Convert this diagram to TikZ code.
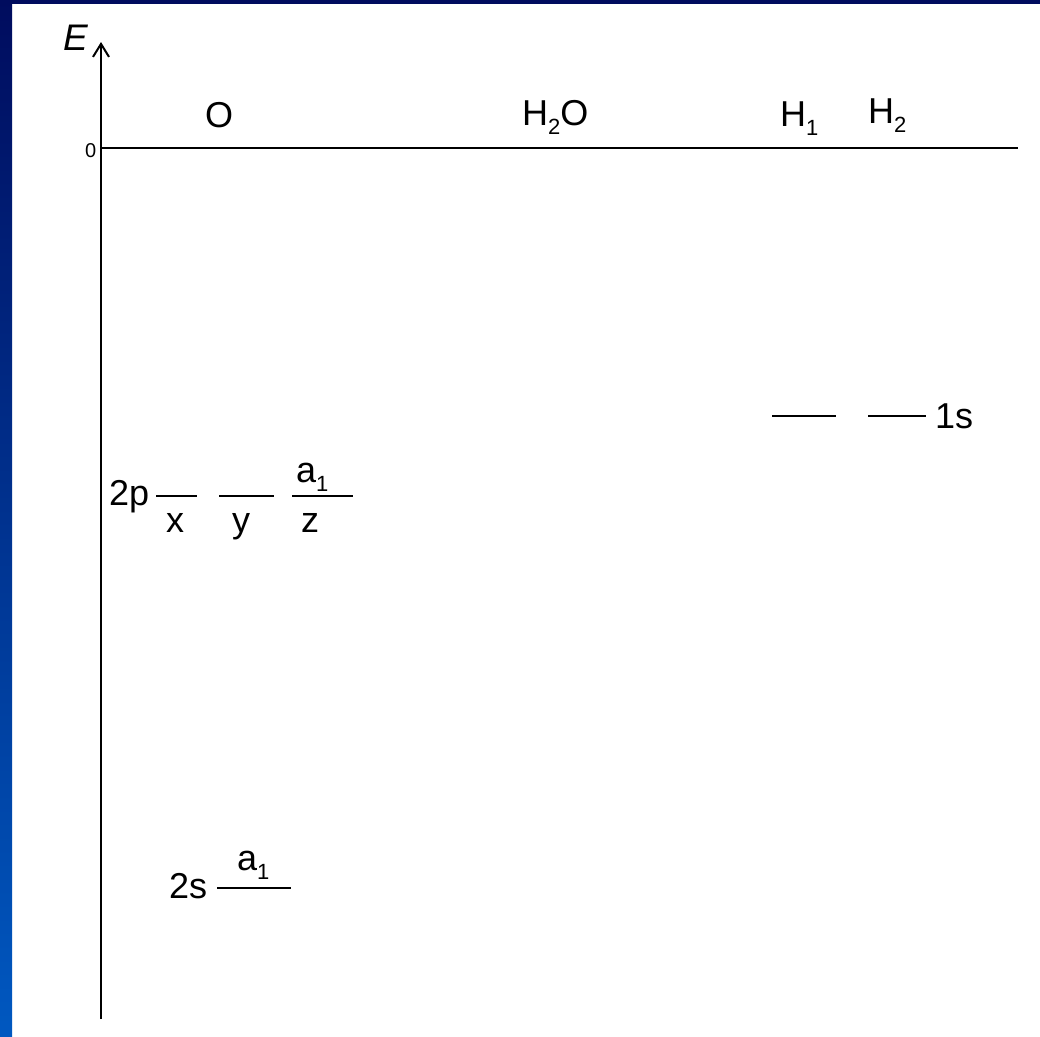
\documentclass[tikz,border=0pt]{standalone}
\usepackage{fontspec}
\setmainfont{Liberation Sans}
\usetikzlibrary{arrows.meta,positioning,calc}
\definecolor{bgtop}{HTML}{000C5E}
\definecolor{bgbot}{HTML}{0058C0}
\newcommand{\lvsub}[1]{\raisebox{-0.5ex}{\fontsize{22}{24}\selectfont #1}}

\begin{document}
\begin{tikzpicture}[x=1pt,y=-1pt,
    axis/.style={line width=2pt},
    orb/.style={line width=2pt},
    txt/.style={font=\fontsize{36}{40}\selectfont, inner sep=0pt, anchor=base west}]
    % frame
    \useasboundingbox (0,0) rectangle (1040,1036);
    \fill[white] (0,0) rectangle (1040,1036);
    \fill[bgtop] (0,0) rectangle (1040,4);
    \shade[top color=bgtop, bottom color=bgbot] (0,0) rectangle (12,1036);

    % axes
    \coordinate (ybot) at (101,1019);
    \coordinate (ytop) at (101,42);
    \coordinate (zl) at (101,148);
    \coordinate (zr) at (1018,148);
    \draw[axis, -{Straight Barb[length=13pt,width=16pt]}] (ybot) -- (ytop);
    \draw[axis] (zl) -- (zr);
    \node[txt, font=\fontsize{37}{40}\selectfont\itshape] (E) at (63,50) {E};
    \node[txt, font=\fontsize{20}{22}\selectfont] (zero) at (85,157) {0};

    % headings
    \node[txt] (O) at (205,127) {O};
    \node[txt] (H2O) at (522,125) {H\lvsub{2}O};
    \node[txt] (Ha) at (780,126) {H\lvsub{1}};
    \node[txt] (Hb) at (868,123) {H\lvsub{2}};

    % H 1s
    \coordinate (h1l) at (772,416); \coordinate (h1r) at (836,416);
    \coordinate (h2l) at (868,416); \coordinate (h2r) at (926,416);
    \draw[orb] (h1l) -- (h1r);
    \draw[orb] (h2l) -- (h2r);
    \node[txt] (s1) at (935,428) {1s};

    % O 2p
    \coordinate (pxl) at (156,496); \coordinate (pxr) at (197,496);
    \coordinate (pyl) at (219,496); \coordinate (pyr) at (274,496);
    \coordinate (pzl) at (292,496); \coordinate (pzr) at (353,496);
    \draw[orb] (pxl) -- (pxr);
    \draw[orb] (pyl) -- (pyr);
    \draw[orb] (pzl) -- (pzr);
    \node[txt] (p2) at (109,505) {2p};
    \node[txt, anchor=base] (px) at (175,532) {x};
    \node[txt, anchor=base] (py) at (241,532) {y};
    \node[txt, anchor=base] (pz) at (310,532) {z};
    \node[txt] (pa) at (296,482) {a\lvsub{1}};

    % O 2s
    \coordinate (sl) at (217,888); \coordinate (sr) at (291,888);
    \draw[orb] (sl) -- (sr);
    \node[txt] (s2) at (169,898) {2s};
    \node[txt] (sa) at (237,870) {a\lvsub{1}};
\end{tikzpicture}
\end{document}
